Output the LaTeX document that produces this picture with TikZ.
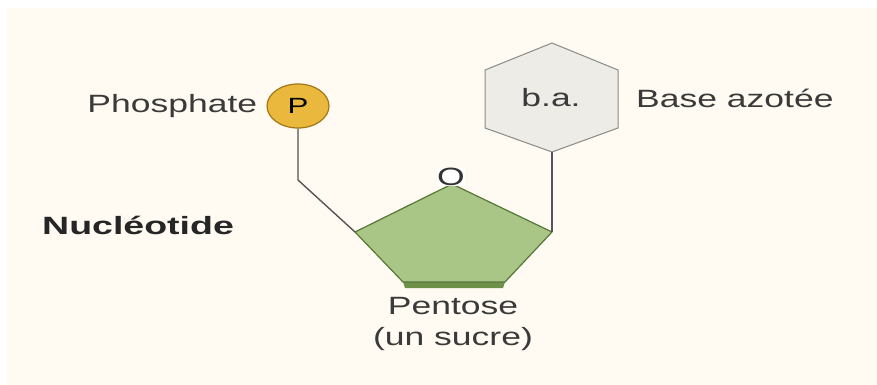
\documentclass[tikz,border=0pt]{standalone}
\usepackage{fontspec}
\setmainfont{Liberation Sans}
\newfontfamily\widefont[FakeStretch=1.42]{Liberation Sans}
\newfontfamily\widebold[FakeStretch=1.5]{Liberation Sans Bold}
\usepackage{tikz}
\usetikzlibrary{shapes.geometric,positioning}

\definecolor{bgcream}{HTML}{FFFBF2}
\definecolor{inkgray}{HTML}{3A3A3A}
\definecolor{linkgray}{HTML}{555555}
\definecolor{goldfill}{HTML}{E9B83C}
\definecolor{golddraw}{HTML}{A07818}
\definecolor{sugarfill}{HTML}{A9C687}
\definecolor{sugardraw}{HTML}{56763A}
\definecolor{sugarband}{HTML}{6E9148}
\definecolor{basefill}{HTML}{EDECE7}
\definecolor{basedraw}{HTML}{8A8A86}

\begin{document}
\begin{tikzpicture}[
  x=1pt, y=-1pt,
  label/.style={text=inkgray, inner sep=0pt, font=\widefont\fontsize{25}{27}\selectfont},
  link/.style={draw=linkgray, line width=1.4pt},
  phos/.style={ellipse, draw=golddraw, line width=1.2pt, fill=goldfill, minimum width=62pt, minimum height=44pt, inner sep=0pt, font=\widefont\fontsize{22}{22}\selectfont}
]
\useasboundingbox (0,0) rectangle (877,385);
\fill[white] (0,0) rectangle (877,385);
\fill[bgcream] (7,8) rectangle (877,385);

% sugar ring
\coordinate (ctop) at (452,184);
\coordinate (cleft) at (355,232);
\coordinate (cright) at (552,232);
\coordinate (cbr) at (505,282);
\coordinate (cbl) at (403,282);
\fill[sugarband] (cbl) -- (cbr) -- (503,288) -- (405,288) -- cycle;
\draw[sugardraw, line width=1.2pt, fill=sugarfill, line join=round]
  (ctop) -- (cright) -- (cbr) -- (cbl) -- (cleft) -- cycle;
\node[label, fill=white, inner sep=0.3pt, text=black!80, font=\widefont\fontsize{25}{25}\selectfont] (oxy) at (451,177) {O};

% base hexagon
\coordinate (htop) at (552,43);
\coordinate (hul) at (485,70);
\coordinate (hll) at (485,128);
\coordinate (hbot) at (552,152);
\coordinate (hlr) at (618,128);
\coordinate (hur) at (618,70);
\draw[basedraw, line width=1pt, fill=basefill]
  (htop) -- (hur) -- (hlr) -- (hbot) -- (hll) -- (hul) -- cycle;
\node[label] (ba) at (551,98) {b.a.};

% phosphate
\node[phos] (p) at (298,106) {P};
\coordinate (bend) at (298,180);

% links
\draw[link] (p.south) -- (bend) -- (cleft);
\draw[link] (hbot) -- (cright);

% labels
\node[label, left=9pt of p] (phosname) {Phosphate};
\node[label, anchor=west] (basename) at (636,98) {Base azotée};
\node[label, anchor=west, font=\widebold\fontsize{25}{27}\selectfont, text=black!85] (nucl) at (42,225) {Nucléotide};
\node[label, align=center, font=\widefont\fontsize{25}{31}\selectfont] (pent) at (453,324) {Pentose\\(un sucre)};
\end{tikzpicture}
\end{document}
